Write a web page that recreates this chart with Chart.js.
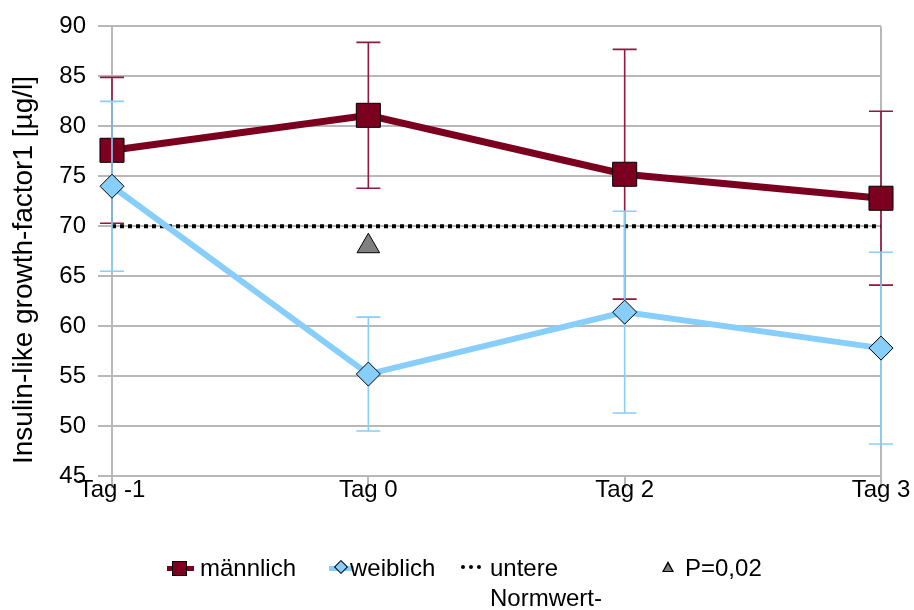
<!DOCTYPE html>
<html>
<head>
<meta charset="utf-8">
<script src="https://cdn.jsdelivr.net/npm/chart.js@4"></script>
<style>
  body { margin: 0; background: #fff; font-family: "Liberation Sans", Arial, sans-serif; }
  #wrap { position: relative; width: 914px; height: 610px; }
  #legend { position: absolute; left: 0; top: 0; width: 914px; height: 610px; pointer-events: none; font-size: 24px; color: #000; }
  .lt { position: absolute; line-height: 24px; }
  .ln { position: absolute; height: 5px; }
  #ytitle { position: absolute; left: 23px; top: 270px; font-size: 28px; white-space: nowrap; color: #000;
            transform: translate(-50%, -50%) rotate(-90deg); line-height: 30px; }
</style>
</head>
<body>
<div id="wrap">
  <canvas id="chart" width="914" height="610"></canvas>
  <div id="ytitle">Insulin-like growth-factor1 [µg/l]</div>
  <div id="legend">
    <div class="ln" style="left:167px;top:566px;width:27px;background:#7b0020;"></div>
    <div style="position:absolute;left:172px;top:561px;width:15px;height:15px;background:#7b0020;border:1px solid #000;box-sizing:border-box;"></div>
    <div class="lt" style="left:200px;top:556px;">männlich</div>

    <div class="ln" style="left:329px;top:566px;width:25px;background:#87cefa;"></div>
    <div style="position:absolute;left:336px;top:562px;width:10px;height:10px;background:#87cefa;border:1px solid #000;box-sizing:border-box;transform:rotate(45deg);"></div>
    <div class="lt" style="left:350px;top:556px;">weiblich</div>

    <div style="position:absolute;left:461px;top:565px;width:20px;height:0;border-top:4px dotted #000;"></div>
    <div class="lt" style="left:490px;top:556px;">untere<br><span style="position:relative;top:6px;">Normwert-</span></div>

    <div style="position:absolute;left:662px;top:561px;width:0;height:0;border-left:6px solid transparent;border-right:6px solid transparent;border-bottom:11px solid #000;"></div>
    <div style="position:absolute;left:664px;top:564px;width:0;height:0;border-left:4px solid transparent;border-right:4px solid transparent;border-bottom:7px solid #808080;"></div>
    <div class="lt" style="left:685px;top:556px;">P=0,02</div>
  </div>
</div>
<script>
const days = ['Tag -1', 'Tag 0', 'Tag 2', 'Tag 3'];
const maleMean = [77.6, 81.1, 75.2, 72.8];
const maleErr = [7.3, 7.3, 12.5, 8.7];
const femaleMean = [74.0, 55.2, 61.4, 57.8];
const femaleErr = [8.5, 5.7, 10.1, 9.6];
const normLower = [70, 70, 70, 70];
const pMark = [null, 68, null, null];
const yTicks = [45, 50, 55, 60, 65, 70, 75, 80, 85, 90];

const gridGray = '#b8b8b8';
const tickFont = { family: 'Liberation Sans', size: 24 };

// draws the error bars of a dataset just before that dataset
const errorBars = {
    id: 'errorBars',
    beforeDatasetDraw(chart, args) {
        const ds = chart.data.datasets[args.index];
        if (!ds.errors) return;
        const y = chart.scales.y;
        const ctx = chart.ctx;
        ctx.save();
        ctx.strokeStyle = ds.errorColor;
        ctx.lineWidth = 1.6;
        args.meta.data.forEach((pt, i) => {
            const v = ds.data[i];
            const e = ds.errors[i];
            const top = y.getPixelForValue(v + e);
            const bot = y.getPixelForValue(v - e);
            ctx.beginPath();
            ctx.moveTo(pt.x, top);
            ctx.lineTo(pt.x, bot);
            ctx.moveTo(pt.x - 12, top);
            ctx.lineTo(pt.x + 12, top);
            ctx.moveTo(pt.x - 12, bot);
            ctx.lineTo(pt.x + 12, bot);
            ctx.stroke();
        });
        ctx.restore();
    }
};

new Chart(document.getElementById('chart'), {
    type: 'line',
    data: {
        labels: days,
        datasets: [
            {
                label: 'untere Normwert-',
                data: normLower,
                borderColor: '#000',
                borderWidth: 4,
                borderDash: [4, 4],
                pointRadius: 0,
                order: 4
            },
            {
                label: 'männlich',
                data: maleMean,
                errors: maleErr,
                errorColor: '#8e1a3c',
                borderColor: '#7b0020',
                backgroundColor: '#7b0020',
                borderWidth: 7,
                pointStyle: 'rect',
                pointRadius: 17,
                pointBorderColor: '#000',
                pointBorderWidth: 1,
                order: 3
            },
            {
                label: 'weiblich',
                data: femaleMean,
                errors: femaleErr,
                errorColor: '#87cefa',
                borderColor: '#87cefa',
                backgroundColor: '#87cefa',
                borderWidth: 6,
                pointStyle: 'rectRot',
                pointRadius: 12,
                pointBorderColor: '#000',
                pointBorderWidth: 1,
                order: 2
            },
            {
                label: 'P=0,02',
                data: pMark,
                showLine: false,
                pointStyle: 'triangle',
                pointRadius: 13,
                backgroundColor: '#808080',
                pointBorderColor: '#000',
                pointBorderWidth: 1,
                order: 1
            }
        ]
    },
    options: {
        responsive: false,
        animation: false,
        layout: { padding: { left: 0, right: 33, top: 24, bottom: 0 } },
        plugins: {
            legend: { display: false },
            tooltip: { enabled: false }
        },
        scales: {
            x: {
                offset: false,
                afterFit: s => { s.height = 134; },
                grid: {
                    color: c => (c.index === 0 || c.index === days.length - 1) ? gridGray : 'rgba(0,0,0,0)',
                    tickColor: gridGray,
                    tickLength: 12,
                    lineWidth: 2
                },
                border: { display: false },
                ticks: { color: '#000', font: tickFont, padding: -12, maxRotation: 0 }
            },
            y: {
                min: 45,
                max: 90,
                afterFit: s => { s.width = 112; },
                afterBuildTicks: s => { s.ticks = yTicks.map(v => ({ value: v })); },
                grid: { color: gridGray, tickColor: gridGray, tickLength: 14, lineWidth: 2 },
                border: { display: false },
                ticks: { color: '#000', font: tickFont, padding: 12 }
            }
        }
    },
    plugins: [errorBars]
});
</script>
</body>
</html>
